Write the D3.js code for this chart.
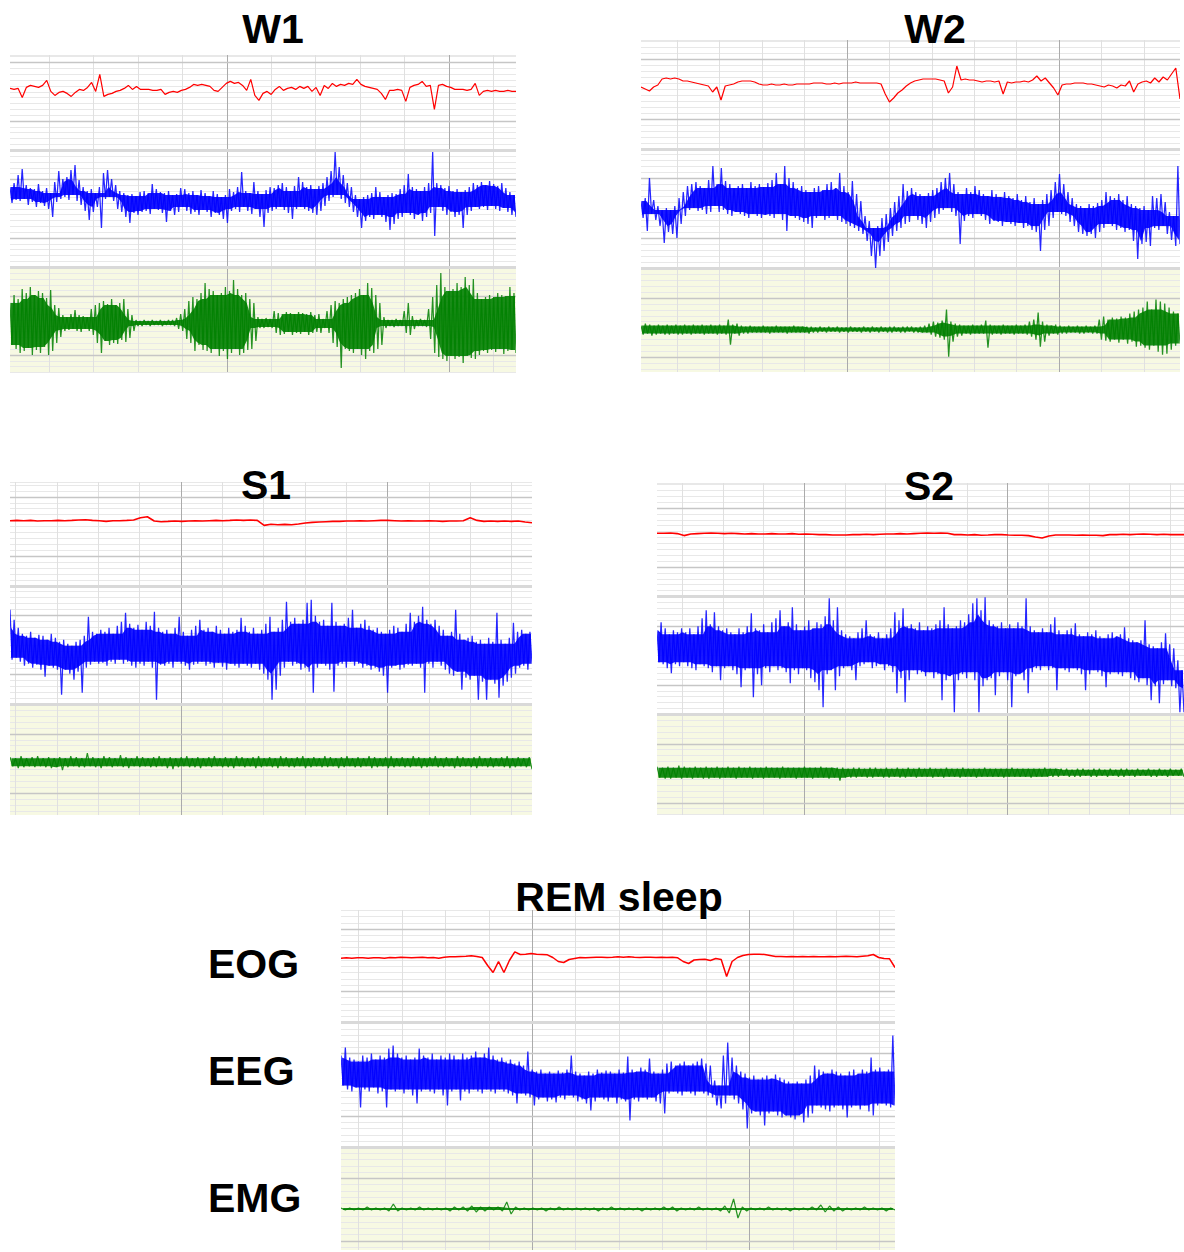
<!DOCTYPE html>
<html><head><meta charset="utf-8">
<script src="https://cdn.jsdelivr.net/npm/d3@7"></script>
<style>body{margin:0;background:#fff}svg{display:block}</style>
</head><body>
<svg id="c" width="1184" height="1252"></svg>
<script>
// ---- Channel names / stage titles ----
const stageTitles = ["W1", "W2", "S1", "S2", "REM sleep"];
const channelLabels = ["EOG", "EEG", "EMG"];

// ---- Sample series (µV, positive up) ----
// EOG: single samples. EEG / EMG: consecutive (high, low) sample pairs.
const eogW1 = [1,0,1,-8,2,4,3,2,4,9,-2,-6,-3,-2,-4,-7,-3,0,-1,2,7,-2,15,-7,-5,-4,-2,-1,1,4,0,3,0,0,0,-1,-1,0,-5,-3,-2,-3,-1,0,2,5,4,5,4,3,-1,-2,2,6,8,6,7,4,-1,10,-6,-11,-4,-2,-5,0,3,-1,1,2,0,3,1,3,-2,2,-6,4,1,6,3,5,4,6,5,10,5,3,2,1,0,-4,-10,-1,-1,0,-1,-12,2,4,5,8,3,4,-20,4,5,3,2,0,0,0,-1,0,6,-6,-2,-1,-2,-1,-2,-2,-1,-2,-2];
const eegW1 = [10,-6,14,-3,22,-4,28,-2,12,-8,9,-5,8,-10,13,-6,6,-9,9,-12,4,-20,15,-5,26,-2,18,0,20,-3,27,2,32,-4,17,-8,10,-14,6,-23,8,-15,4,-10,10,-31,24,-2,27,0,18,-4,12,-12,6,-15,4,-20,2,-26,3,-16,1,-18,5,-15,6,-14,4,-17,13,-12,8,-13,5,-16,4,-25,6,-14,2,-18,3,-15,9,-10,8,-14,4,-17,6,-15,2,-18,7,-13,4,-15,1,-20,6,-16,3,-18,0,-22,2,-26,8,-14,5,-12,10,-15,25,-10,6,-14,4,-17,15,-12,6,-20,3,-30,7,-16,10,-14,9,-12,12,-10,14,-13,10,-16,6,-22,11,-12,20,-10,15,-12,10,-14,12,-16,8,-18,11,-14,14,-9,20,-4,26,0,45,2,30,-2,22,-6,14,-10,10,-15,2,-20,-2,-31,0,-24,2,-20,4,-22,10,-18,5,-20,0,-25,2,-33,4,-27,3,-22,8,-20,12,-16,23,-18,10,-22,8,-18,6,-24,10,-20,14,-16,45,-39,14,-10,12,-14,9,-18,11,-15,6,-20,8,-18,5,-31,7,-18,10,-14,14,-10,12,-12,15,-10,12,-13,16,-9,13,-12,11,-14,14,-11,9,-15,5,-18,2,-20];
const emgW1 = [20,-22,28,-26,24,-30,34,-28,30,-25,36,-32,28,-27,32,-30,30,-24,25,-32,33,-28,18,-20,15,-14,8,-8,6,-7,9,-6,13,-8,8,-9,7,-6,6,-8,14,-12,18,-20,20,-30,22,-18,19,-22,24,-20,18,-21,20,-17,24,-19,14,-15,8,-8,3,-3,2,-3,3,-2,2,-3,3,-2,2,-2,3,-3,2,-2,3,-2,3,-3,5,-6,9,-8,14,-16,22,-20,26,-28,24,-22,30,-27,40,-28,34,-30,32,-26,28,-33,30,-28,36,-36,32,-30,43,-26,34,-32,28,-30,30,-27,24,-26,20,-18,6,-5,4,-5,5,-4,4,-5,12,-10,10,-12,9,-11,11,-9,10,-12,9,-10,11,-11,10,-9,9,-12,11,-10,8,-9,9,-10,4,-5,12,-10,18,-20,22,-24,20,-45,24,-26,26,-28,28,-30,30,-26,34,-32,28,-36,40,-28,35,-30,28,-26,20,-22,6,-5,3,-3,3,-4,4,-3,3,-3,12,-10,20,-12,7,-6,3,-3,4,-3,3,-4,14,-16,26,-30,38,-34,50,-36,36,-38,32,-33,34,-36,40,-34,36,-40,46,-33,38,-35,44,-36,30,-32,24,-28,26,-30,28,-27,26,-29,30,-26,28,-31,27,-28,36,-27,30,-30];

const eogW2 = [-3,-5,-7,-3,-1,5,6,5,6,5,3,3,2,1,0,-1,-2,-8,-3,-16,-2,-1,0,2,3,3,3,2,0,-1,-1,0,-1,-1,0,-1,-1,0,0,0,0,1,1,1,0,0,1,0,1,1,1,2,1,1,1,1,1,0,-10,-18,-14,-9,-6,-2,1,3,4,5,5,5,5,4,3,-9,-3,18,4,5,4,4,3,2,3,3,2,3,-10,2,1,2,2,3,2,4,8,3,6,1,-4,-11,-1,0,0,1,1,1,0,0,-1,-2,-3,-1,-2,-4,-1,-2,3,-8,0,2,3,1,6,2,7,4,10,16,-15];
const eegW2 = [5,-12,8,-25,28,-8,6,-14,0,-20,-4,-37,-2,-26,-4,-28,0,-32,8,-18,14,-10,20,-4,22,-2,24,-5,20,-4,18,-8,26,-6,40,0,22,-6,38,-4,25,-8,22,-10,18,-6,20,-8,22,-10,18,-12,24,-8,20,-10,22,-12,19,-9,23,-10,26,-12,33,-8,22,-14,40,-25,28,-10,24,-12,18,-14,20,-16,16,-18,14,-22,18,-12,20,-10,16,-14,22,-12,24,-10,18,-14,33,-16,20,-18,14,-20,25,-22,12,-25,5,-28,-10,-35,-15,-50,-22,-62,-20,-50,-12,-45,-8,-36,-2,-30,4,-25,10,-22,22,-18,15,-16,18,-10,14,-14,12,-18,10,-22,13,-16,16,-12,18,-8,24,-4,28,-2,33,-6,22,-10,14,-38,12,-15,18,-10,14,-12,20,-8,16,-10,12,-14,10,-18,16,-15,12,-16,9,-20,14,-16,10,-18,8,-20,12,-17,6,-22,10,-20,4,-24,8,-26,2,-45,6,-24,12,-20,16,-12,24,-6,32,-8,22,-10,14,-16,8,-20,2,-26,0,-28,-2,-30,2,-28,0,-32,3,-26,6,-22,14,-18,10,-20,8,-24,12,-22,6,-26,10,-24,2,-35,0,-53,-2,-38,0,-36,-4,-40,10,-22,8,-24,12,-20,4,-28,-6,-34,-10,-40,40,-38];
const emgW2 = [4,-5,6,-4,5,-6,4,-5,5,-4,4,-5,5,-5,4,-4,5,-5,4,-5,5,-4,4,-5,5,-4,4,-4,5,-5,4,-4,5,-4,4,-5,5,-4,4,-5,10,-15,5,-4,6,-6,4,-4,3,-4,4,-3,3,-3,3,-3,4,-3,3,-4,3,-3,4,-3,3,-3,3,-4,3,-3,4,-3,3,-3,3,-3,3,-4,3,-3,2,-3,3,-2,2,-3,3,-2,2,-2,3,-3,2,-2,2,-3,3,-2,2,-2,2,-3,3,-2,2,-3,3,-2,2,-3,3,-2,2,-3,3,-3,3,-2,2,-3,3,-3,3,-2,3,-3,2,-3,3,-3,4,-3,6,-5,8,-7,7,-8,9,-10,20,-27,8,-12,6,-7,5,-6,4,-4,4,-5,5,-4,4,-4,5,-4,9,-18,5,-5,4,-4,4,-5,5,-4,4,-4,4,-5,5,-4,4,-4,5,-5,8,-7,10,-10,17,-17,8,-12,5,-6,4,-4,5,-5,4,-4,3,-4,4,-3,3,-3,4,-4,3,-4,4,-3,3,-4,4,-4,10,-10,13,-11,10,-12,12,-10,11,-13,13,-10,12,-14,16,-12,18,-17,20,-16,22,-18,28,-20,20,-16,30,-22,28,-25,26,-24,22,-20,18,-16,16,-14];

const eogS1 = [0,0.3,0,0.3,-0.3,0,0,0.3,0,0.3,0.7,1,0.3,0,-0.7,0,0,0.3,0.7,3,4,-0.3,-1,-0.7,-0.3,-0.7,-0.3,0,-0.3,0,0.3,0,0.3,0.7,0.3,0.7,0.3,-4.7,-3.5,-4,-3.7,-4,-3.3,-2.3,-1.7,-1.3,-1,-0.7,-0.7,-0.3,-0.3,0,-0.3,0,0.3,0.3,0,-0.3,0,-0.3,-0.3,0,-0.3,-0.7,-0.3,-0.3,0,3,0.3,-0.7,-0.3,-0.7,-0.3,-0.7,-0.3,-1.3,-2];
const eegS1 = [40,-10,30,-8,22,-12,16,-16,14,-14,18,-18,12,-15,15,-20,14,-27,10,-16,16,-18,12,-20,8,-45,10,-20,6,-24,4,-30,8,-22,10,-43,14,-18,33,-15,18,-12,16,-14,20,-13,18,-16,22,-12,16,-14,24,-10,28,-14,37,-12,26,-16,22,-18,25,-14,20,-16,28,-12,24,-18,38,-50,22,-15,18,-16,20,-14,16,-18,22,-12,33,-14,18,-16,14,-20,20,-15,24,-14,30,-12,20,-16,22,-14,18,-18,24,-13,20,-17,16,-20,22,-14,18,-16,20,-18,32,-14,24,-16,18,-18,22,-14,16,-20,20,-24,26,-30,33,-50,18,-40,22,-26,30,-18,48,-12,28,-16,32,-14,26,-20,30,-18,47,-22,50,-43,34,-18,28,-14,30,-16,24,-20,47,-42,28,-16,24,-14,26,-18,32,-12,40,-16,22,-14,26,-18,30,-16,24,-20,20,-18,22,-22,18,-26,16,-43,20,-18,24,-16,22,-20,18,-18,26,-15,37,-16,28,-14,34,-18,43,-43,30,-14,26,-18,30,-12,24,-16,20,-20,14,-24,18,-26,40,-22,16,-40,10,-28,12,-30,14,-26,8,-50,10,-32,6,-50,12,-30,8,-34,37,-48,10,-36,6,-32,12,-28,27,-24,18,-18,20,-16,16,-20,18,-14];
const emgS1 = [5,-4,4,-6,6,-5,4,-4,5,-5,6,-4,4,-5,5,-6,4,-5,5,-8,4,-5,6,-4,5,-5,4,-5,9,-4,5,-5,4,-6,6,-4,5,-5,4,-4,7,-5,5,-6,4,-4,6,-5,5,-4,4,-5,5,-5,6,-4,4,-6,5,-7,4,-5,5,-4,6,-5,4,-5,5,-6,4,-4,5,-5,6,-4,4,-5,5,-5,4,-6,6,-4,5,-5,4,-4,5,-6,6,-5,4,-4,5,-5,4,-6,6,-4,5,-5,4,-5,5,-4,6,-6,4,-5,5,-4,4,-5,6,-5,5,-4,4,-6,5,-5,6,-4,4,-5,5,-5,4,-4,6,-6,5,-5,4,-4,5,-6,6,-5,4,-4,5,-5,4,-5,6,-4,5,-6,4,-5,5,-4,6,-5,4,-5,5,-4,4,-6,6,-5,5,-4,4,-5,5,-6,6,-4,4,-5,5,-5,4,-4,5,-5,6,-6,4,-5,5,-4,4,-5,5,-7];

const eogS2 = [1,1,1.3,0.7,-1.3,0.3,0.7,1,1.3,1,0.7,1,0.7,0.3,0.7,0.3,0.3,0.7,0.3,0.3,0.7,0,0.3,0,-0.3,-0.3,-0.7,-0.7,-0.7,-0.3,-0.3,0,-0.3,0,0.3,0.3,0.7,0.3,0.7,1,1.3,1,1.3,1,-0.3,-0.3,-0.7,-0.3,-1,-0.7,-0.3,-0.3,-0.7,-1,-1,-1.3,-2.7,-3.7,-1.7,-0.7,-0.7,-0.7,-1,-0.7,-1,-1,-1.3,-0.3,-0.3,0,-0.3,0,0.3,0,-0.3,0,-0.3,-0.3,-0.3];
const eegS2 = [20,-12,28,-14,22,-18,16,-23,20,-14,18,-16,22,-12,18,-16,22,-18,16,-20,24,-14,32,-16,40,-18,26,-22,38,-16,24,-30,20,-18,22,-16,18,-20,16,-24,22,-37,18,-20,24,-18,37,-47,22,-24,20,-35,26,-18,18,-22,28,-16,32,-20,40,-18,24,-22,28,-33,43,-20,26,-24,20,-18,24,-20,30,-28,22,-32,28,-40,26,-57,34,-24,52,-20,30,-40,43,-26,20,-18,16,-16,14,-20,12,-30,18,-16,22,-14,30,-12,16,-18,14,-16,18,-14,12,-20,16,-16,22,-22,38,-43,30,-28,42,-52,24,-30,26,-20,22,-24,28,-22,20,-26,24,-22,22,-28,26,-24,30,-50,43,-30,26,-26,22,-62,24,-30,30,-24,28,-28,36,-22,47,-30,52,-62,40,-36,53,-30,30,-28,26,-45,24,-26,28,-22,22,-30,26,-57,22,-26,28,-24,24,-30,52,-43,24,-22,20,-18,18,-20,22,-16,18,-20,26,-18,33,-40,20,-18,16,-20,20,-22,22,-18,27,-20,16,-24,14,-40,18,-24,16,-20,20,-22,14,-26,12,-37,16,-24,18,-22,14,-24,16,-26,23,-22,12,-28,10,-30,8,-32,10,-28,30,-35,6,-50,4,-36,2,-53,8,-34,17,-30,6,-36,2,-38,-10,-62,-20,-62];
const emgS2 = [6,-5,5,-6,6,-6,5,-5,7,-6,6,-5,5,-6,6,-5,5,-6,6,-6,5,-5,6,-6,5,-5,6,-5,5,-6,6,-5,5,-5,6,-6,5,-5,5,-6,6,-5,5,-5,5,-6,6,-5,5,-5,5,-6,5,-5,6,-5,5,-6,5,-5,6,-5,5,-6,5,-5,5,-8,5,-5,4,-5,5,-5,5,-4,4,-5,5,-5,5,-4,4,-5,5,-5,4,-4,5,-5,4,-5,5,-4,4,-5,5,-4,4,-4,5,-5,4,-4,4,-5,5,-4,4,-4,4,-5,5,-4,4,-4,4,-5,4,-4,5,-4,4,-4,4,-4,4,-5,4,-4,5,-4,4,-4,4,-4,4,-5,4,-4,4,-4,5,-4,4,-4,4,-4,4,-3,4,-4,3,-4,4,-4,4,-3,3,-4,4,-4,4,-3,3,-4,4,-3,3,-4,4,-4,4,-3,3,-4,4,-3,3,-3,4,-4,3,-4,4,-3,3,-4,4,-3,3,-3,4,-4];

const eogREM = [-0.7,-0.3,-0.7,-0.3,-0.3,-0.7,-0.3,-0.3,-0.7,0,-0.3,0.3,0,-0.3,0,0.3,-0.3,0,-0.7,0.3,0.7,0.7,1,1.3,1.7,1,0,-8,-15,-4,-15,-3,5.6,3,3.3,4,3.3,3,2.7,0,-4,-5,-2,-1,0,-0.3,0,0.3,0.3,0,0.3,0.7,0.3,0.7,0.3,0,0.3,0.3,0,0.3,0,0.3,-0.3,-4,-6,-2.5,-2,-1.7,-3,-1,-2,-19,-4,0,2,3,3.3,3.3,3,2,1,1,0.7,1,0.7,1,0.7,1,0.7,0.7,1,0.7,1,1.3,1,0.7,1.3,1.7,3,0,-1,-1.3,-10];
const eegREM = [20,-10,28,-14,18,-16,16,-12,14,-32,20,-14,18,-16,22,-12,16,-18,20,-16,18,-32,27,-14,30,-16,22,-14,18,-18,20,-14,16,-20,18,-28,27,-16,20,-14,18,-16,22,-18,16,-14,20,-20,18,-30,22,-16,20,-14,16,-25,22,-16,18,-18,20,-14,24,-16,18,-18,22,-14,28,-16,20,-18,16,-14,18,-16,14,-18,16,-20,12,-28,14,-18,10,-20,24,-22,6,-30,4,-24,6,-22,2,-26,4,-24,2,-27,5,-22,3,-24,6,-20,20,-22,4,-26,2,-24,0,-28,4,-35,2,-26,6,-22,3,-24,5,-26,4,-22,2,-28,6,-24,3,-26,19,-45,6,-24,4,-26,8,-22,6,-24,17,-22,4,-26,2,-28,6,-38,12,-18,14,-16,10,-18,12,-20,14,-16,10,-18,12,-20,14,-16,17,-18,12,-20,10,-22,-5,-30,-10,-33,20,-28,33,-20,18,-24,10,-28,4,-34,2,-53,-2,-38,0,-36,-4,-40,-2,-50,0,-38,-3,-36,1,-40,-2,-42,-4,-40,-6,-42,-8,-44,-6,-40,-8,-47,-4,-42,0,-38,10,-30,6,-32,4,-34,2,-36,6,-32,4,-30,2,-34,0,-42,4,-32,6,-30,2,-34,6,-30,4,-36,18,-40,6,-30,8,-28,4,-30,6,-32,40,-30];
const emgREM = [1,-1,1,-1,1,-1,2,-1,1,-1,1,-2,5,-2,1,-1,1,-1,2,-1,1,-1,1,-1,1,-2,2,-1,2,-2,3,-3,2,-2,2,-1,2,-2,7,-5,2,-1,1,-1,1,-1,1,-2,1,-1,2,-1,1,-1,1,-1,1,-1,1,-2,1,-1,2,-1,1,-1,1,-1,1,-2,1,-1,1,-1,2,-1,2,-2,1,-1,1,-1,2,-1,1,-1,1,-2,3,-4,10,-9,2,-2,1,-1,1,-1,2,-1,1,-1,1,-2,1,-1,1,-1,2,-1,4,-3,3,-2,2,-2,1,-1,1,-1,2,-1,1,-1,1,-2,1,-1];

// ---- Layout (pixels) ----
const panels = [
  {title: stageTitles[0], tx: 273, ty: 43, x0: 10, x1: 516, top: 55, b1: 150, b2: 267, bottom: 372, t0: 0.12, t1: 11.52, base: [89.4, 197, 323], data: [eogW1, eegW1, emgW1], widths: [1.2, 1.25, 1.25]},
  {title: stageTitles[1], tx: 935, ty: 43, x0: 641, x1: 1180, top: 40, b1: 148.5, b2: 267.8, bottom: 372, t0: 0.16, t1: 12.85, base: [84, 206, 329.6], data: [eogW2, eegW2, emgW2], widths: [1.2, 1.25, 1.25]},
  {title: stageTitles[2], tx: 266, ty: 499, x0: 10, x1: 532, top: 482, b1: 585.5, b2: 704, bottom: 815, t0: 0.87, t1: 13.5, base: [520.7, 649.7, 762.2], data: [eogS1, eegS1, emgS1], widths: [1.6, 1.25, 1.2]},
  {title: stageTitles[3], tx: 929, ty: 500, x0: 657, x1: 1184, top: 483, b1: 596.2, b2: 714.1, bottom: 815, t0: 1.39, t1: 14.34, base: [534.3, 650.2, 772.7], data: [eogS2, eegS2, emgS2], widths: [1.6, 1.25, 1.2]},
  {title: stageTitles[4], tx: 619, ty: 911, x0: 341, x1: 895, top: 910, b1: 1022.3, b2: 1147, bottom: 1250, t0: 0.6, t1: 13.36, base: [957.5, 1075.5, 1209], data: [eogREM, eegREM, emgREM], widths: [1.5, 1.25, 1.2]}
];
const colors = ["#ff0000", "#0000ff", "#008000"];
const labelPos = [{x: 208, y: 978}, {x: 208, y: 1085}, {x: 208, y: 1212}];

const svg = d3.select("#c");
const font = "'Liberation Sans', Arial, Helvetica, sans-serif";

panels.forEach((p, pi) => {
  const g = svg.append("g");
  const x = d3.scaleLinear().domain([p.t0, p.t1]).range([p.x0, p.x1]);
  const H = p.b2 - p.b1;
  const W = p.x1 - p.x0;

  // EMG strip background
  g.append("rect").attr("x", p.x0).attr("y", p.b2).attr("width", W).attr("height", p.bottom - p.b2).attr("fill", "#f7f9e3");

  // horizontal grid
  const minor = [p.top], major = [], bound = [];
  [p.b1 - H, p.b1, p.b2].forEach((s, si) => {
    const gy = d3.scaleLinear().domain([0, 20]).range([s, s + H]);
    d3.range(21).forEach(k => {
      if (k === 20 && si < 2) return;
      const y = gy(k);
      if (y < p.top - 0.5 || y > p.bottom + 0.5) return;
      if (k === 0 && si > 0) bound.push(y);
      else if (k === 5 || k === 15) major.push(y);
      else minor.push(y);
    });
  });
  const hl = (arr, color, w) => g.append("g").selectAll("line").data(arr).join("line")
    .attr("x1", p.x0).attr("x2", p.x1).attr("y1", d => Math.round(d) + 0.5).attr("y2", d => Math.round(d) + 0.5)
    .attr("stroke", color).attr("stroke-width", w);
  hl(minor, "#e8e8e8", 1);

  // vertical grid
  const ticks = d3.range(Math.ceil(p.t0), Math.floor(p.t1) + 1);
  g.append("g").selectAll("line").data(ticks).join("line")
    .attr("x1", d => Math.round(x(d)) + 0.5).attr("x2", d => Math.round(x(d)) + 0.5)
    .attr("y1", p.top).attr("y2", p.bottom)
    .attr("stroke", d => d % 5 === 0 ? "#ababab" : "#e0e0e0").attr("stroke-width", 1);

  hl(major, "#c6c6c6", 1.4);
  hl(bound, "#d9d9d9", 3);

  // clip for traces
  const cid = "clip" + pi;
  svg.append("clipPath").attr("id", cid).append("rect")
    .attr("x", p.x0).attr("y", p.top).attr("width", W).attr("height", p.bottom - p.top);

  const tg = g.append("g").attr("clip-path", `url(#${cid})`);
  p.data.forEach((arr, ci) => {
    const idx = d3.scaleLinear().domain([0, arr.length - 1]).range([p.t0, p.t1]);
    const ys = d3.scaleLinear().domain([-60, 60]).range([p.base[ci] + 60, p.base[ci] - 60]);
    if (ci > 0) {
      // dense min/max rendering: solid inner band common to neighbouring (high, low) pairs
      const n = arr.length / 2;
      const pairs = d3.range(n).map(i => ({t: idx(2 * i + 0.5), hi: arr[2 * i], lo: arr[2 * i + 1]}));
      const core = pairs.map((d, i) => {
        const win = pairs.slice(Math.max(0, i - 2), Math.min(n, i + 3));
        let h = d3.min(win, w => w.hi), l = d3.max(win, w => w.lo);
        if (h < l + 1) { const m = (h + l) / 2; h = m + 0.5; l = m - 0.5; }
        return {t: d.t, hi: h, lo: l};
      });
      const area = d3.area().x(d => x(d.t)).y0(d => ys(d.lo)).y1(d => ys(d.hi)).curve(d3.curveLinear);
      tg.append("path").attr("d", area(core)).attr("fill", colors[ci]).attr("fill-opacity", 0.9);
    }
    const line = d3.line().x((d, i) => x(idx(i))).y(d => ys(d));
    tg.append("path").attr("d", line(arr)).attr("fill", "none")
      .attr("stroke", colors[ci]).attr("stroke-width", p.widths[ci])
      .attr("stroke-opacity", ci > 0 ? 0.85 : 1)
      .attr("stroke-linejoin", "bevel");
  });

  // title
  svg.append("text").attr("x", p.tx).attr("y", p.ty).attr("text-anchor", "middle")
    .attr("font-family", font).attr("font-weight", "bold").attr("font-size", 41).attr("fill", "#000")
    .text(p.title);
});

// channel labels beside REM panel
svg.append("g").selectAll("text").data(channelLabels).join("text")
  .attr("x", (d, i) => labelPos[i].x).attr("y", (d, i) => labelPos[i].y)
  .attr("font-family", font).attr("font-weight", "bold").attr("font-size", 41).attr("fill", "#000")
  .text(d => d);
</script>
</body></html>
